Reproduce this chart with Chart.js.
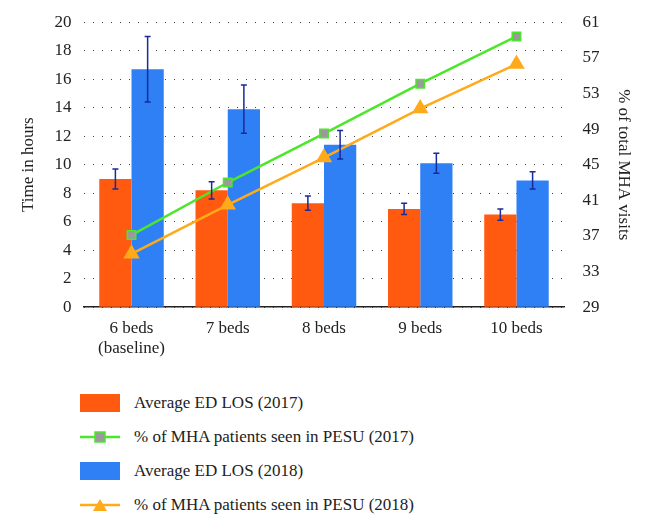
<!DOCTYPE html>
<html><head><meta charset="utf-8">
<script src="https://cdn.jsdelivr.net/npm/chart.js@4"></script>
<style>
body{margin:0;background:#fff;font-family:'Liberation Serif','Times New Roman','DejaVu Serif',serif;}
#wrap{position:relative;width:648px;height:362px;}
#legend{margin-left:80px;margin-top:24px;font-size:17px;color:#222;}
.item{display:flex;align-items:center;height:34px;}
.sw{width:40px;height:18px;margin-right:14px;position:relative;}
</style></head><body>
<div id="wrap"><canvas id="c"></canvas></div>
<div id="legend">
<div class="item"><div class="sw" style="background:#ff5a0f"></div>Average ED LOS (2017)</div>
<div class="item"><div class="sw"><svg width="40" height="18"><line x1="0" y1="9" x2="40" y2="9" stroke="#4ce62a" stroke-width="2.5"/><rect x="15" y="4" width="10" height="10" fill="#9a9a9a" stroke="#4ce62a" stroke-width="1.5"/></svg></div>% of MHA patients seen in PESU (2017)</div>
<div class="item"><div class="sw" style="background:#2f7ff5"></div>Average ED LOS (2018)</div>
<div class="item"><div class="sw"><svg width="40" height="18"><line x1="0" y1="9" x2="40" y2="9" stroke="#ffaa1a" stroke-width="2.5"/><polygon points="20,3 27,15 13,15" fill="#ffaa1a"/></svg></div>% of MHA patients seen in PESU (2018)</div>
</div>
<script>
const categories=[["6 beds","(baseline)"],"7 beds","8 beds","9 beds","10 beds"];
const los2017=[9.0,8.2,7.3,6.9,6.5];
const err2017=[0.7,0.6,0.5,0.4,0.4];
const los2018=[16.7,13.9,11.4,10.1,8.9];
const err2018=[2.3,1.7,1.0,0.7,0.6];
const pesu2017=[37.1,43.0,48.5,54.1,59.4];
const pesu2018=[35.0,40.5,45.8,51.3,56.3];
const leftTicks=[0,2,4,6,8,10,12,14,16,18,20];
const rightTicks=[29,33,37,41,45,49,53,57,61];

const errPlugin={id:'err',afterDatasetsDraw(ch){
 const ctx=ch.ctx,y=ch.scales.y;
 [[0,los2017,err2017],[1,los2018,err2018]].forEach(([di,vals,errs])=>{
  const meta=ch.getDatasetMeta(di);
  meta.data.forEach((b,i)=>{
   const x=b.x,t=y.getPixelForValue(vals[i]+errs[i]),bo=y.getPixelForValue(vals[i]-errs[i]);
   ctx.save();ctx.strokeStyle='#1a2a9a';ctx.lineWidth=1.5;ctx.beginPath();
   ctx.moveTo(x,t);ctx.lineTo(x,bo);ctx.moveTo(x-3,t);ctx.lineTo(x+3,t);ctx.moveTo(x-3,bo);ctx.lineTo(x+3,bo);
   ctx.stroke();ctx.restore();
  });
 });
}};
const font={family:"'Liberation Serif','Times New Roman','DejaVu Serif',serif",size:17};
new Chart(document.getElementById('c'),{
 data:{labels:categories,datasets:[
  {type:'bar',data:los2017,backgroundColor:'#ff5a0f',yAxisID:'y',order:2,categoryPercentage:0.67,barPercentage:1},
  {type:'bar',data:los2018,backgroundColor:'#2f7ff5',yAxisID:'y',order:2,categoryPercentage:0.67,barPercentage:1},
  {type:'line',data:pesu2017,borderColor:'#4ce62a',borderWidth:2.5,pointStyle:'rect',pointRadius:6,pointBackgroundColor:'#9a9a9a',pointBorderColor:'#4ce62a',pointBorderWidth:1.5,yAxisID:'y1',order:0},
  {type:'line',data:pesu2018,borderColor:'#ffaa1a',borderWidth:2.5,pointStyle:'triangle',pointRadius:7,pointBackgroundColor:'#ffaa1a',pointBorderColor:'#ffaa1a',yAxisID:'y1',order:1}
 ]},
 options:{responsive:true,maintainAspectRatio:false,animation:false,
  layout:{padding:{top:12,left:14,right:10}},
  plugins:{legend:{display:false},tooltip:{enabled:false}},
  scales:{
   x:{grid:{display:false},border:{color:'#222',width:1.5},ticks:{color:'#222',font,maxRotation:0}},
   y:{position:'left',min:0,max:20,afterBuildTicks:a=>{a.ticks=leftTicks.map(v=>({value:v}))},
      grid:{color:'#444',lineWidth:1,drawTicks:false},border:{display:true,color:'rgba(0,0,0,0)',dash:[1,8]},
      ticks:{color:'#222',font,padding:12},title:{display:true,text:'Time in hours',color:'#222',font}},
   y1:{position:'right',min:29,max:61,afterBuildTicks:a=>{a.ticks=rightTicks.map(v=>({value:v}))},
      grid:{display:false},border:{display:false},ticks:{color:'#222',font,padding:10},
      title:{display:true,text:'% of total MHA visits',color:'#222',font}}
  }},
 plugins:[errPlugin]
});
</script></body></html>
